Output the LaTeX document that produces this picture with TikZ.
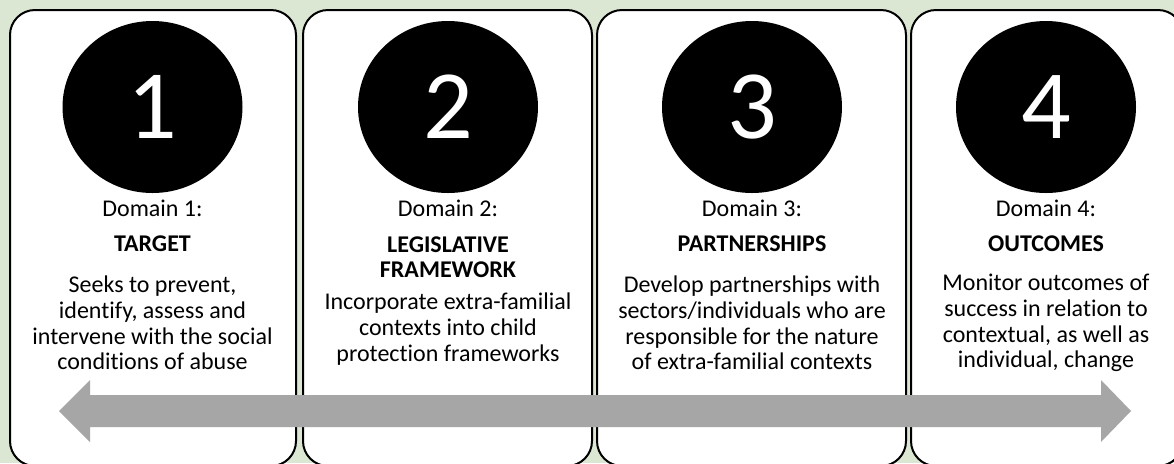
\documentclass[tikz,border=0pt]{standalone}
\usepackage{fontspec}
\setmainfont{Carlito}[Ligatures={NoCommon}]
\usetikzlibrary{shapes.geometric}
\definecolor{sage}{RGB}{219,230,211}
\definecolor{bargray}{RGB}{166,166,166}
\tikzset{
  panel/.style={draw=black, line width=1pt, fill=white, rounded corners=12.5pt},
  badge/.style={ellipse, fill=black, text=white, minimum width=90pt, minimum height=86pt,
    inner sep=0pt, font=\fontsize{49}{49}\selectfont},
  domainlabel/.style={anchor=base, inner sep=0pt, font=\fontsize{12}{12.8}\selectfont},
  heading/.style={align=center, inner sep=0pt, font=\fontsize{12}{12.6}\selectfont\bfseries},
  blurb/.style={align=center, inner sep=0pt, font=\fontsize{12}{12.8}\selectfont},
}
\begin{document}
\begin{tikzpicture}[x=0.5pt,y=-0.5pt]
\useasboundingbox (0,0) rectangle (1174,463);
\fill[sage] (0,0) rectangle (1174,463);
\begin{scope}
\clip (0,0) rectangle (1174,463);
% panels
\draw[panel] (10,10) rectangle (296,466);
\draw[panel] (303,10) rectangle (592,466);
\draw[panel] (597,10) rectangle (906,466);
\draw[panel] (911,10) rectangle (1183,466);
\end{scope}
% number badges
\node (one) [badge] at (152.5,107) {1};
\node (two) [badge] at (448,107) {2};
\node (three) [badge] at (752,107) {3};
\node (four) [badge] at (1046,107) {4};
% domain 1
\node (dom1) [domainlabel] at (152.5,216) {Domain 1:};
\node (head1) [heading, anchor=base] at (152.5,251) {TARGET};
\node (text1) [blurb] at (152.5,323) {Seeks to prevent,\\identify, assess and\\intervene with the social\\conditions of abuse};
% domain 2
\node (dom2) [domainlabel] at (448,216) {Domain 2:};
\node (head2) [heading] at (448,257) {LEGISLATIVE\\FRAMEWORK};
\node (text2) [blurb] at (448,329) {Incorporate extra-familial\\contexts into child\\protection frameworks};
% domain 3
\node (dom3) [domainlabel] at (752,216) {Domain 3:};
\node (head3) [heading, anchor=base] at (752,251) {PARTNERSHIPS};
\node (text3) [blurb] at (752,323) {Develop partnerships with\\sectors/individuals who are\\responsible for the nature\\of extra-familial contexts};
% domain 4
\node (dom4) [domainlabel] at (1046,216) {Domain 4:};
\node (head4) [heading, anchor=base] at (1046,251) {OUTCOMES};
\node (text4) [blurb] at (1046,323) {Monitor outcomes of\\success in relation to\\contextual, as well as\\individual, change};
% double-headed bar
\fill[bargray] (59,411) -- (90,380) -- (90,395) -- (1101,395) -- (1101,380)
  -- (1131,411) -- (1101,442) -- (1101,427) -- (90,427) -- (90,442) -- cycle;
\end{tikzpicture}
\end{document}
